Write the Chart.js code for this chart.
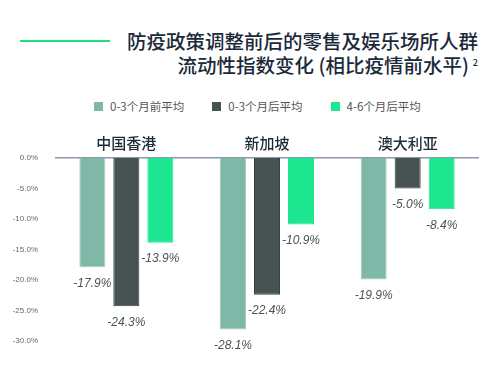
<!DOCTYPE html>
<html>
<head>
<meta charset="utf-8">
<script src="https://cdn.jsdelivr.net/npm/chart.js@4.4.1/dist/chart.umd.min.js"></script>
<style>
  body { margin: 0; width: 500px; height: 369px; background: #fff; overflow: hidden; position: relative;
         font-family: "Noto Sans CJK SC", sans-serif; }
  #rule { position: absolute; left: 20px; top: 40px; width: 90px; height: 2px; background: #1de27c; }
  #title { position: absolute; right: 22px; top: 30px; text-align: right; font-size: 19.5px; line-height: 21.5px;
           color: #1b2a3a; font-weight: 500; }
  #title sup { font-size: 9px; vertical-align: 7px; margin-left: 4px; }
  #legend { position: absolute; left: 94px; top: 98px; display: flex; font-size: 11.5px; color: #555; }
  #legend .item { display: flex; align-items: center; margin-right: 28px; }
  #legend .box { width: 9px; height: 9px; margin-right: 7px; }
  #wrap { position: absolute; left: 0; top: 0; width: 500px; height: 369px; }
</style>
</head>
<body>
<div id="rule"></div>
<div id="title">防疫政策调整前后的零售及娱乐场所人群<br>流动性指数变化 (相比疫情前水平)<sup>2</sup></div>
<div id="legend"></div>
<div id="wrap"><canvas id="grafico"></canvas></div>
<script>
// Dados
const regioes = ['中国香港', '新加坡', '澳大利亚'];
const series = ['0-3个月前平均', '0-3个月后平均', '4-6个月后平均'];
const antes03 = [-17.9, -28.1, -19.9];
const depois03 = [-24.3, -22.4, -5.0];
const depois46 = [-13.9, -10.9, -8.4];
const yTicks = [0, -5, -10, -15, -20, -25, -30];

const cores = ['#80b8a8', '#465352', '#1de690'];
const bordas = ['#a3cdc0', '#33403f', '#1de690'];

// Legenda em HTML
const legend = document.getElementById('legend');
series.forEach((nome, i) => {
  legend.innerHTML += `<div class="item"><div class="box" style="background:${cores[i]}"></div>${nome}</div>`;
});

// Rótulos abaixo das barras
const rotulos = {
  id: 'rotulos',
  afterDatasetsDraw(chart) {
    const ctx = chart.ctx;
    ctx.save();
    ctx.font = 'italic 12px "Liberation Sans"';
    ctx.fillStyle = '#4a5358';
    ctx.textAlign = 'center';
    ctx.textBaseline = 'middle';
    chart.data.datasets.forEach((ds, i) => {
      chart.getDatasetMeta(i).data.forEach((bar, j) => {
        ctx.fillText(ds.data[j].toFixed(1) + '%', bar.x, bar.y + 16);
      });
    });
    ctx.restore();
  }
};

const dados = [antes03, depois03, depois46];

new Chart(document.getElementById('grafico'), {
  type: 'bar',
  data: {
    labels: regioes,
    datasets: series.map((nome, i) => ({
      label: nome,
      data: dados[i],
      backgroundColor: cores[i],
      borderColor: bordas[i],
      borderWidth: 1,
      borderSkipped: 'start',
      categoryPercentage: 0.725,
      barPercentage: 0.765
    }))
  },
  options: {
    responsive: true,
    maintainAspectRatio: false,
    animation: false,
    layout: { padding: { left: 0, right: 22, top: 120, bottom: 28 } },
    plugins: { legend: { display: false }, tooltip: { enabled: false } },
    scales: {
      x: {
        position: 'top',
        grid: { display: false, drawTicks: false },
        border: { display: true, color: '#8d98ab', width: 1.5 },
        ticks: {
          color: '#1c2b3a',
          padding: 6,
          font: { size: 15, family: '"Noto Sans CJK SC"', weight: '500' }
        },
        afterFit: s => { s.height = 38; }
      },
      y: {
        min: -30,
        max: 0,
        afterBuildTicks: s => { s.ticks = yTicks.map(v => ({ value: v })); },
        grid: { display: false },
        border: { display: false },
        ticks: {
          color: '#666',
          padding: 10,
          font: { size: 8, family: '"Liberation Sans"' },
          callback: v => v.toFixed(1) + '%'
        },
        afterFit: s => { s.width = 56; }
      }
    }
  },
  plugins: [rotulos]
});
</script>
</body>
</html>
